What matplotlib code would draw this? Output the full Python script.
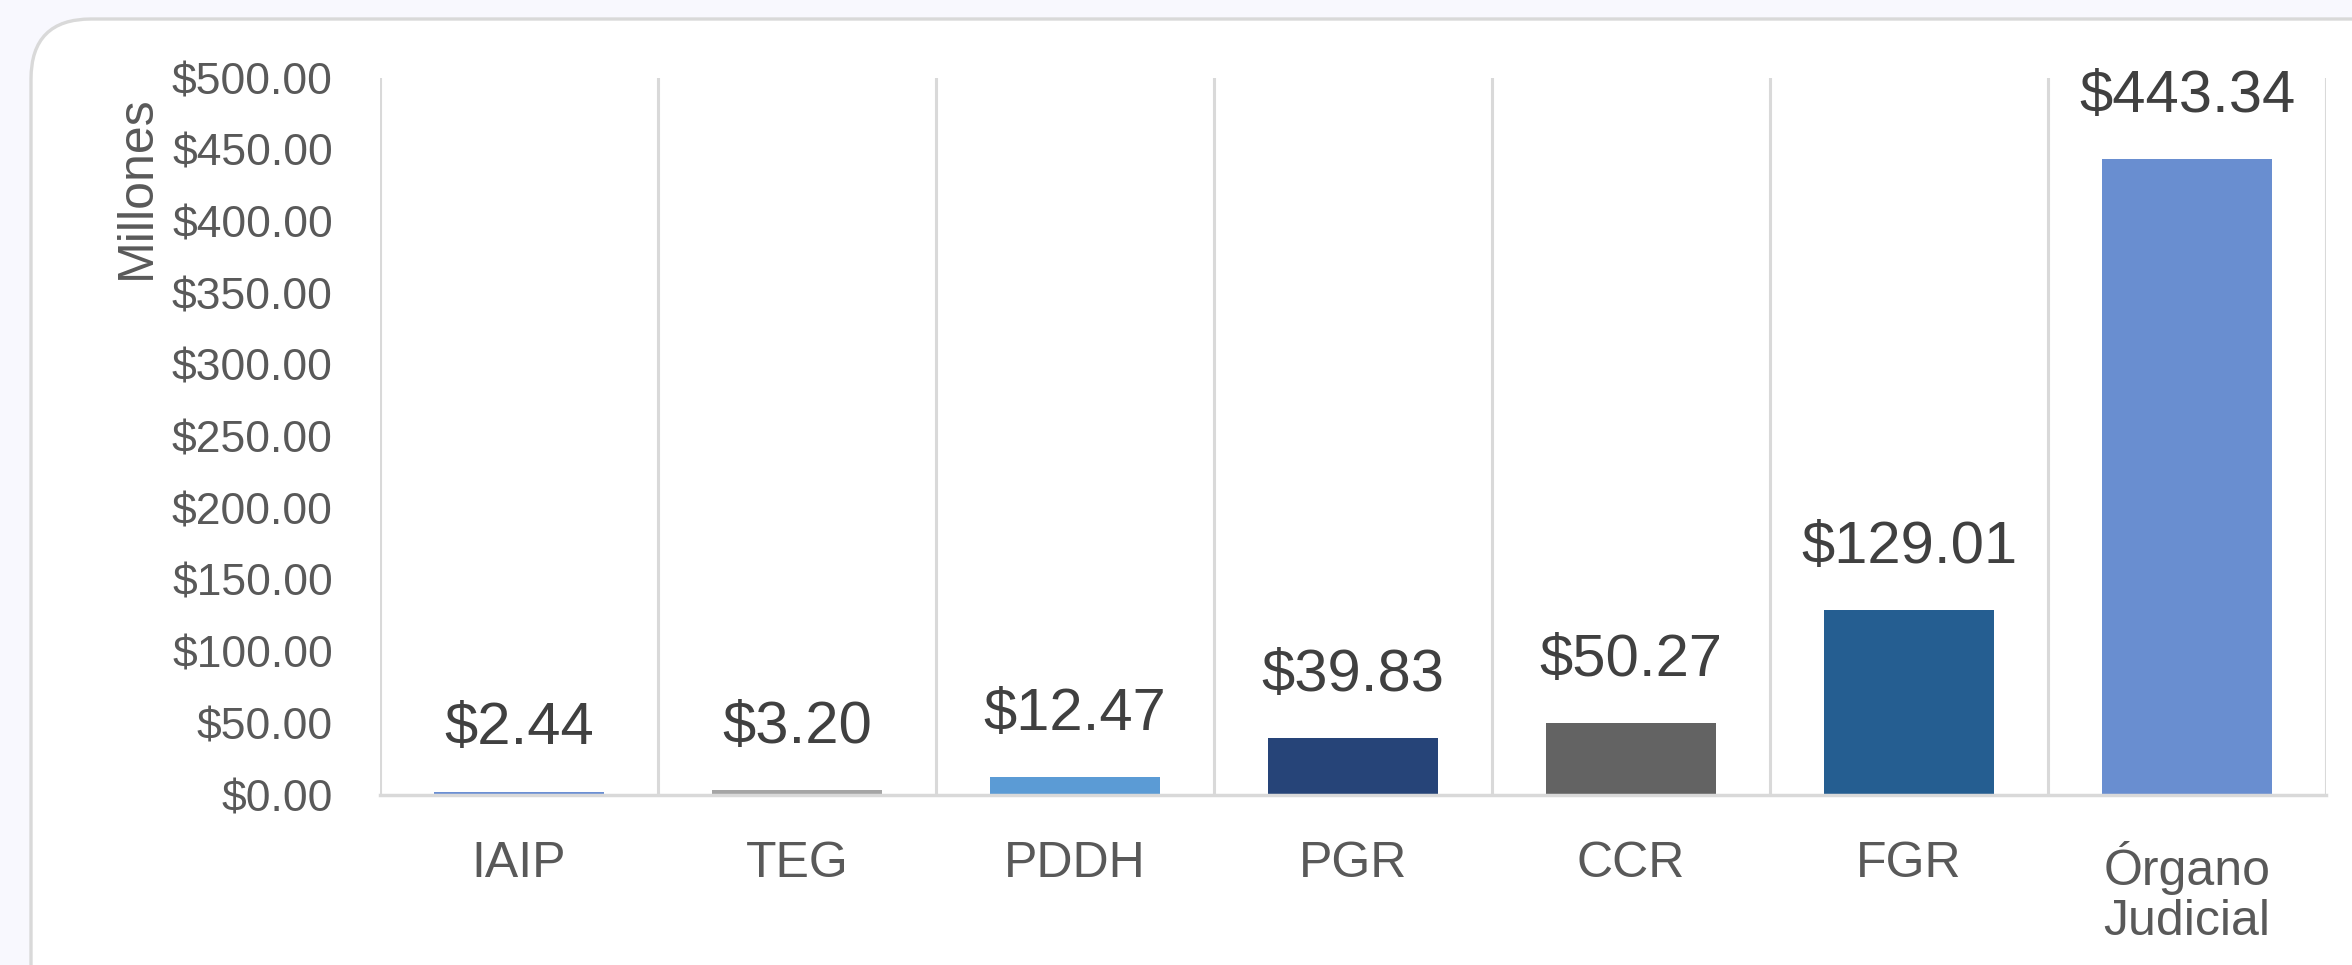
import matplotlib
matplotlib.use("Agg")
import matplotlib.pyplot as plt
from matplotlib.patches import FancyBboxPatch
from matplotlib.ticker import FuncFormatter, FixedLocator

categories = ["IAIP", "TEG", "PDDH", "PGR", "CCR", "FGR", "Órgano\nJudicial"]
values = [2.44, 3.20, 12.47, 39.83, 50.27, 129.01, 443.34]
bar_colors = ["#6b8fd3", "#a5a5a5", "#5b9bd5", "#264478", "#636363", "#255e91", "#698ed0"]
y_ticks = [0, 50, 100, 150, 200, 250, 300, 350, 400, 450, 500]

plt.rcParams['font.family'] = ['Liberation Sans', 'DejaVu Sans']

W, H = 2352, 965
fig = plt.figure(figsize=(W / 100, H / 100), dpi=100)
fig.patch.set_facecolor("#f8f8fe")

# background axes in pixel units for the rounded chart-area box
bg = fig.add_axes([0, 0, 1, 1], zorder=0)
bg.set_xlim(0, W)
bg.set_ylim(H, 0)
bg.axis("off")
box = FancyBboxPatch((31, 19), W + 200, H + 100,
                     boxstyle="round,pad=0,rounding_size=60",
                     facecolor="white", edgecolor="#d9d9d9", linewidth=2.4)
bg.add_patch(box)

ax = fig.add_axes([380 / W, 1 - 795 / H, (2326 - 380) / W, (795 - 78) / H], zorder=2)
ax.set_facecolor("none")

x = range(len(categories))
ax.bar(x, values, width=0.61, color=bar_colors, zorder=3)

for xi, v in zip(x, values):
    ax.annotate(f"${v:,.2f}", (xi, v), xytext=(0, 34), textcoords="offset points",
                ha="center", va="baseline", fontsize=43, color="#404040")

ax.set_xlim(-0.5, len(categories) - 0.5)
ax.set_ylim(0, 500)
ax.yaxis.set_major_locator(FixedLocator(y_ticks))
ax.yaxis.set_major_formatter(FuncFormatter(lambda v, p: f"${v:,.2f}"))
ax.set_xticks(list(x))
ax.set_xticklabels(categories, linespacing=1.12)
ax.xaxis.set_minor_locator(FixedLocator([i - 0.5 for i in range(len(categories) + 1)]))
ax.grid(which="minor", axis="x", color="#d9d9d9", linewidth=2.2, zorder=1)
ax.grid(which="major", axis="both", visible=False)

ax.tick_params(axis="y", length=0, labelsize=32, labelcolor="#595959", pad=34)
ax.tick_params(axis="x", which="major", length=0, labelsize=36, labelcolor="#595959", pad=33)
ax.tick_params(axis="x", which="minor", length=0)

for s in ["top", "right", "left"]:
    ax.spines[s].set_visible(False)
ax.spines["bottom"].set_color("#d9d9d9")
ax.spines["bottom"].set_linewidth(2.5)
ax.spines["bottom"].set_zorder(4)

ax.set_ylabel("Millones", fontsize=36, color="#595959")
ax.yaxis.set_label_coords(-0.113, 0.848)

fig.savefig("out.png", dpi=100, facecolor=fig.get_facecolor())
